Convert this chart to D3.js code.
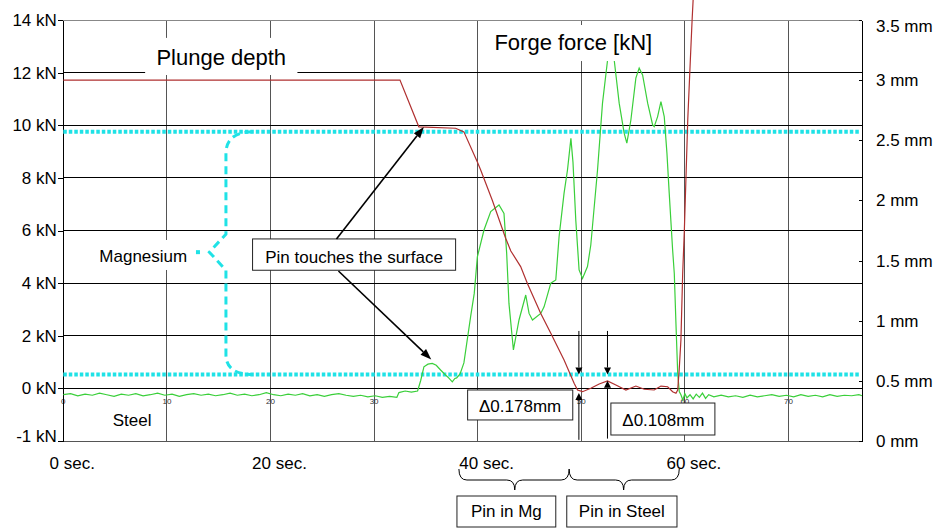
<!DOCTYPE html>
<html>
<head>
<meta charset="utf-8">
<script src="https://cdn.jsdelivr.net/npm/d3@7"></script>
<style>
body { margin: 0; background: #fff; }
text { font-family: "Liberation Sans", Arial, sans-serif; }
</style>
</head>
<body>
<svg id="chart" width="938" height="528"></svg>
<script>
// forge force (left axis, kN) against time in seconds
var forceTime = [0, 0.7, 1.4, 2.1, 2.8, 3.5, 4.2, 4.9, 5.6, 6.3, 7.0, 7.7, 8.4, 9.1, 9.8,
    10.5, 11.2, 11.9, 12.6, 13.3, 14.0, 14.7, 15.4, 16.1, 16.8, 17.5, 18.2, 18.9, 19.6,
    20.3, 21.0, 21.7, 22.4, 23.1, 23.8, 24.5, 25.2, 25.9, 26.6, 27.3, 28.0, 28.7, 29.4,
    30.1, 30.8, 31.5, 32.2, 32.4, 33.0, 33.6, 34.2, 34.5, 34.81, 35.2, 35.62, 36.0, 36.42,
    36.9, 37.2, 37.55, 37.8, 37.97, 38.3, 38.67, 39.32, 39.67, 39.97, 40.61, 41.26, 42.06,
    42.54, 42.8, 43.02, 43.45, 43.99, 44.64, 44.96, 45.29, 46.09, 46.41, 47.06, 47.54,
    47.86, 48.34, 48.67, 49.0, 49.2, 49.47, 49.79, 50.12, 50.6, 50.92, 51.57, 52.05,
    52.54, 52.86, 53.18, 53.66, 54.14, 54.4, 54.79, 55.27, 55.59, 55.92, 56.41, 56.89,
    57.04, 57.37, 57.69, 58.01, 58.27, 58.49, 58.82, 58.98, 59.14, 59.31, 59.46, 59.62,
    59.8, 60.0, 60.2, 60.5, 60.8, 61.1, 61.4, 61.7, 62.0, 62.3, 62.8, 63.5, 64.2, 64.9,
    65.6, 66.3, 67.0, 67.7, 68.4, 69.1, 69.8, 70.5, 71.2, 71.9, 72.6, 73.3, 74.0, 74.7,
    75.4, 76.1, 76.8, 77.1];
var forceKN = [-0.12, -0.10, -0.14, -0.11, -0.13, -0.09, -0.12, -0.15, -0.11, -0.13, -0.10,
    -0.14, -0.12, -0.09, -0.13, -0.11, -0.15, -0.12, -0.10, -0.13, -0.11, -0.14, -0.12,
    -0.09, -0.13, -0.11, -0.14, -0.12, -0.08, -0.12, -0.14, -0.11, -0.13, -0.10, -0.14,
    -0.12, -0.15, -0.12, -0.10, -0.13, -0.15, -0.13, -0.16, -0.14, -0.17, -0.15, -0.17,
    -0.08, -0.05, -0.07, -0.05, 0.3, 0.82, 0.92, 0.95, 0.88, 0.70, 0.51, 0.40, 0.25, 0.38,
    0.40, 0.55, 0.97, 2.73, 3.61, 5.0, 6.02, 6.72, 6.97, 6.65, 5.13, 3.23, 1.46, 2.6, 3.55,
    2.85, 2.6, 2.85, 3.1, 4.0, 4.12, 5.77, 7.42, 8.30, 9.5, 8.6, 6.4, 4.5, 4.18, 4.63,
    5.45, 8.3, 10.84, 12.48, 13.05, 12.48, 10.84, 9.7, 9.32, 10.2, 11.79, 12.17, 11.91,
    10.84, 10.01, 9.95, 10.33, 10.9, 10.33, 8.94, 7.42, 5.26, 4.37, 2.47, 0.57, -0.06,
    -0.12, -0.22, -0.10, -0.18, -0.12, -0.20, -0.11, -0.17, -0.09, -0.19, -0.12, -0.16,
    -0.13, -0.16, -0.14, -0.17, -0.13, -0.16, -0.14, -0.12, -0.15, -0.13, -0.16, -0.12,
    -0.15, -0.13, -0.16, -0.12, -0.15, -0.13, -0.14, -0.12, -0.14];

// plunge depth (right axis, mm)
var depthTime = [0, 32.5, 34.32, 34.97, 37.87, 38.67, 39.97, 40.29, 41.42, 42.7, 43.2,
    44.15, 44.8, 46.09, 47.06, 48.34, 49.31, 49.64, 50.12, 50.92, 51.73, 52.53, 53.34,
    54.31, 55.27, 56.08, 57.04, 57.69, 58.34, 58.82, 59.14, 59.31, 59.46, 59.62, 59.79,
    59.95, 60.04, 60.28, 60.53, 60.7, 60.8];
var depthMM = [3.0, 3.0, 2.612, 2.61, 2.60, 2.57, 2.32, 2.253, 2.0, 1.685, 1.58, 1.45,
    1.31, 1.06, 0.896, 0.673, 0.48, 0.424, 0.41, 0.438, 0.474, 0.50, 0.466, 0.424, 0.457,
    0.43, 0.424, 0.457, 0.451, 0.41, 0.397, 0.424, 0.60, 0.84, 1.39, 1.75, 2.0, 2.67,
    3.17, 3.5, 3.67];

// magnesium layer limits, mm
var layerMM = [2.57, 0.553];

var kNTicks = [-1, 0, 2, 4, 6, 8, 10, 12, 14];
var kNLabels = ["-1 kN", "0 kN", "2 kN", "4 kN", "6 kN", "8 kN", "10 kN", "12 kN", "14 kN"];
var mmTicks = [0, 0.5, 1, 1.5, 2, 2.5, 3, 3.5];
var mmLabels = ["0 mm", "0.5 mm", "1 mm", "1.5 mm", "2 mm", "2.5 mm", "3 mm", "3.5 mm"];
var secTicks = [0, 20, 40, 60];
var secLabels = ["0 sec.", "20 sec.", "40 sec.", "60 sec."];
var gridSec = [10, 20, 30, 40, 50, 60, 70];
// small labels of the original time axis (40 is hidden under a box)
var smallSec = [0, 10, 20, 30, 50, 60, 70];

var svg = d3.select("#chart");
var pLeft = 63.3, pRight = 862, pTop = 20, pBottom = 441;

var x = d3.scaleLinear().domain([0, 77.1]).range([pLeft, pRight]);
var yL = d3.scaleLinear().domain([-1, 0, 14]).range([pBottom, 388.4, pTop]);
var yR = d3.scaleLinear().domain([0, 3.5]).range([pBottom, pTop]);

// grid
var grid = svg.append("g").attr("shape-rendering", "crispEdges");
grid.selectAll(".vg").data(gridSec).enter().append("line")
    .attr("x1", function(d) { return x(d); }).attr("x2", function(d) { return x(d); })
    .attr("y1", pTop).attr("y2", pBottom)
    .attr("stroke", "#555");
grid.selectAll(".hg").data(kNTicks.filter(function(d) { return d >= 0 && d < 14; }))
    .enter().append("line")
    .attr("x1", pLeft).attr("x2", pRight)
    .attr("y1", function(d) { return yL(d); }).attr("y2", function(d) { return yL(d); })
    .attr("stroke", "#000");
grid.append("line").attr("x1", pLeft).attr("x2", pRight).attr("y1", pTop).attr("y2", pTop)
    .attr("stroke", "#888");
grid.append("line").attr("x1", pLeft).attr("x2", pRight).attr("y1", pBottom).attr("y2", pBottom)
    .attr("stroke", "#555");

// small inner second labels along the zero line
svg.selectAll(".small").data(smallSec).enter().append("text")
    .attr("x", function(d) { return x(d); })
    .attr("y", yL(0) + 15.5)
    .attr("text-anchor", "middle")
    .attr("font-size", "8px")
    .attr("fill", "#333")
    .text(function(d) { return d; });

// axes
var axL = svg.append("g").attr("transform", "translate(" + pLeft + ",0)")
    .call(d3.axisLeft(yL).tickValues(kNTicks)
          .tickFormat(function(d, i) { return kNLabels[i]; })
          .tickSize(5).tickSizeOuter(0).tickPadding(1.5));
var axR = svg.append("g").attr("transform", "translate(" + pRight + ",0)")
    .call(d3.axisRight(yR).tickValues(mmTicks)
          .tickFormat(function(d, i) { return mmLabels[i]; })
          .tickSizeInner(-3).tickSizeOuter(0).tickPadding(14));
[axL, axR].forEach(function(a) {
    a.selectAll("text").attr("font-size", "17px").attr("fill", "#000")
        .style("font-family", "'Liberation Sans', Arial, sans-serif");
    a.selectAll("path, line").attr("stroke", "#000").attr("shape-rendering", "crispEdges");
});
axL.selectAll(".tick text").filter(function(d) { return d === -1; }).attr("dy", "0em");
axR.selectAll(".tick text").filter(function(d) { return d === 3.5; }).attr("dy", "0.7em");

svg.selectAll(".sec").data(secTicks).enter().append("text")
    .attr("x", function(d) { return x(d) + 9; })
    .attr("y", pBottom + 28)
    .attr("text-anchor", "middle")
    .attr("font-size", "17px")
    .text(function(d, i) { return secLabels[i]; });

// magnesium layer lines
var cyan = "#1fe2e6";
svg.selectAll(".layer").data(layerMM).enter().append("line")
    .attr("x1", x(0)).attr("x2", x(76.8))
    .attr("y1", function(d) { return yR(d); }).attr("y2", function(d) { return yR(d); })
    .attr("stroke", cyan).attr("stroke-width", 4)
    .attr("stroke-dasharray", "3.5,2");

// cyan brace
var bx = x(15.7), bEnd = x(18.3), bTip = x(14.1);
var bT = yR(layerMM[0]), bB = yR(layerMM[1]), bM = yR(1.57);
svg.append("path")
    .attr("d", "M" + bEnd + "," + bT + " Q" + bx + "," + bT + " " + bx + "," + (bT + 22)
        + " L" + bx + "," + (bM - 18) + " L" + bTip + "," + bM + " L" + bx + "," + (bM + 18)
        + " L" + bx + "," + (bB - 20) + " Q" + bx + "," + bB + " " + bEnd + "," + bB)
    .attr("fill", "none").attr("stroke", cyan).attr("stroke-width", 3)
    .attr("stroke-dasharray", "8,5");
svg.append("rect").attr("x", x(13.0) - 2).attr("y", bM - 2).attr("width", 4).attr("height", 4)
    .attr("fill", cyan);

// curves
var lineL = d3.line().x(function(d) { return x(d[0]); }).y(function(d) { return yL(d[1]); });
var lineR = d3.line().x(function(d) { return x(d[0]); }).y(function(d) { return yR(d[1]); });
svg.append("path").datum(d3.zip(forceTime, forceKN))
    .attr("d", lineL).attr("fill", "none")
    .attr("stroke", "#3acf3a").attr("stroke-width", 1.2);
svg.append("path").datum(d3.zip(depthTime, depthMM))
    .attr("d", lineR).attr("fill", "none")
    .attr("stroke", "#b03030").attr("stroke-width", 1.2);

// labels and boxes
function box(x0, x1, y0, y1, border) {
    svg.append("rect").attr("x", x0).attr("y", y0)
        .attr("width", x1 - x0).attr("height", y1 - y0)
        .attr("fill", "#fff")
        .attr("stroke", border ? "#222" : "none").attr("stroke-width", 1);
}
function label(t, cx, by, size) {
    svg.append("text").attr("x", cx).attr("y", by)
        .attr("text-anchor", "middle").attr("font-size", size + "px")
        .text(t);
}
function arrow(x1, y1, x2, y2, len, wid, sw) {
    var dx = x2 - x1, dy = y2 - y1, L = Math.sqrt(dx * dx + dy * dy);
    var ux = dx / L, uy = dy / L;
    var hx = x2 - ux * len, hy = y2 - uy * len;
    svg.append("line").attr("x1", x1).attr("y1", y1).attr("x2", hx).attr("y2", hy)
        .attr("stroke", "#000").attr("stroke-width", sw);
    svg.append("path")
        .attr("d", "M" + x2 + "," + y2 + " L" + (hx - uy * wid / 2) + "," + (hy + ux * wid / 2)
            + " L" + (hx + uy * wid / 2) + "," + (hy - ux * wid / 2) + "Z")
        .attr("fill", "#000");
}

box(x(7.9), x(22.6), yL(13.32), yL(11.91), false);
label("Plunge depth", x(15.25), yL(12.29), 22);
box(x(40.5), x(58.0), yL(13.81), yL(12.44), false);
label("Forge force [kN]", x(49.23), yL(12.86), 22);
box(x(2.6), x(12.7), yL(5.64), yL(4.5), false);
label("Magnesium", x(7.72), yL(4.82), 17);
label("Steel", x(6.64), yL(-0.715), 17);

box(x(18.27), x(37.87), yL(5.68), yL(4.49), true);
label("Pin touches the surface", x(28.07), yL(4.76), 17);
arrow(x(26.37), yL(5.68), x(34.8), yR(2.61), 11, 8, 1.6);
arrow(x(26.56), yL(4.46), x(35.52), yL(1.1), 11, 8, 1.6);

box(x(39.03), x(49.18), yL(-0.03), yL(-0.6), true);
label("\u03940.178mm", x(44.1), yL(-0.45), 17);
box(x(52.86), x(62.9), yL(-0.278), yL(-0.886), true);
label("\u03940.108mm", x(57.93), yL(-0.715), 17);

// delta arrows
arrow(x(49.77), yR(0.915), x(49.77), yR(layerMM[1]), 7, 7, 1);
arrow(x(49.77), yR(0.01), x(49.77), yR(0.40), 7, 7, 1);
arrow(x(52.53), yR(0.915), x(52.53), yR(layerMM[1]), 7, 7, 1);
arrow(x(52.53), yR(0.02), x(52.53), yR(0.50), 7, 7, 1);

// braces below the time axis
function braceH(x0, x1, xm) {
    var yT = pBottom + 28, yM = pBottom + 39, yTip = pBottom + 49;
    return "M" + x0 + "," + yT + " Q" + x0 + "," + yM + " " + (x0 + 8) + "," + yM
        + " L" + (xm - 8) + "," + yM + " Q" + xm + "," + yM + " " + xm + "," + yTip
        + " Q" + xm + "," + yM + " " + (xm + 8) + "," + yM
        + " L" + (x1 - 8) + "," + yM + " Q" + x1 + "," + yM + " " + x1 + "," + yT;
}
svg.append("path").attr("d", braceH(x(38.19), x(48.83), x(43.58)))
    .attr("fill", "none").attr("stroke", "#000").attr("stroke-width", 1);
svg.append("path").attr("d", braceH(x(48.83), x(59.46), x(54.09)))
    .attr("fill", "none").attr("stroke", "#000").attr("stroke-width", 1);
svg.append("rect").attr("x", x(38.0)).attr("y", pBottom + 55)
    .attr("width", x(47.54) - x(38.0)).attr("height", 31)
    .attr("fill", "#fff").attr("stroke", "#222");
label("Pin in Mg", (x(38.0) + x(47.54)) / 2, pBottom + 76, 17);
svg.append("rect").attr("x", x(48.6)).attr("y", pBottom + 55)
    .attr("width", x(59.24) - x(48.6)).attr("height", 31)
    .attr("fill", "#fff").attr("stroke", "#222");
label("Pin in Steel", (x(48.6) + x(59.24)) / 2, pBottom + 76, 17);
</script>
</body>
</html>
